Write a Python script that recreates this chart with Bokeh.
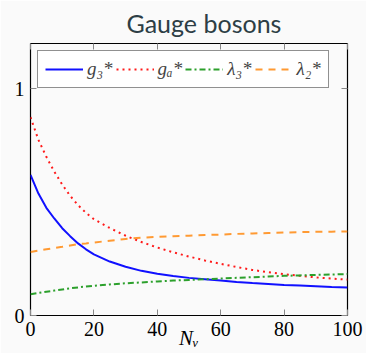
from bokeh.plotting import figure
from bokeh.models import (Legend, LegendItem, LinearAxis, FixedTicker, Range1d)
from bokeh.embed import file_html
from bokeh.resources import INLINE

# Fixed-point couplings versus number of flavours N_v
n_v = [0, 2.5, 5, 7.5, 10, 12.5, 15, 17.5, 20, 25, 30, 35, 40, 45, 50,
       55, 60, 65, 70, 75, 80, 85, 90, 95, 100]
g3_star = [0.62, 0.538, 0.475, 0.428, 0.385, 0.35, 0.318, 0.292, 0.27, 0.238, 0.215, 0.197,
           0.184, 0.174, 0.166, 0.160, 0.154, 0.148, 0.143, 0.139, 0.135, 0.132, 0.129,
           0.126, 0.124]
ga_star = [0.875, 0.775, 0.70, 0.635, 0.578, 0.528, 0.487, 0.453, 0.425, 0.386, 0.352, 0.324,
           0.300, 0.279, 0.260, 0.243, 0.228, 0.214, 0.201, 0.191, 0.182, 0.175, 0.168,
           0.163, 0.158]
lam3_star = [0.094, 0.10, 0.105, 0.11, 0.115, 0.12, 0.124, 0.128, 0.131, 0.137, 0.142, 0.146,
             0.150, 0.154, 0.157, 0.160, 0.163, 0.166, 0.169, 0.172, 0.175, 0.177, 0.179,
             0.181, 0.183]
lam2_star = [0.28, 0.286, 0.292, 0.298, 0.303, 0.309, 0.315, 0.318, 0.322, 0.330, 0.338, 0.343,
             0.347, 0.350, 0.352, 0.355, 0.357, 0.360, 0.362, 0.364, 0.366, 0.368, 0.369,
             0.370, 0.371]

x_ticks = [0, 20, 40, 60, 80, 100]
y_ticks = [0, 1]
series_labels = ["g₃*", "gₐ*", "λ₃*", "λ₂*"]
x_label = "Nᵥ"

BG = "#fafafa"
SERIF = "Liberation Serif"
TICK_GREY = "#888888"

p = figure(frame_width=317, frame_height=272,
           min_border_left=30, min_border_right=19, min_border_top=42, min_border_bottom=39,
           x_range=Range1d(0, 100), y_range=Range1d(0, 1.2),
           output_backend="svg", toolbar_location=None,
           background_fill_color=BG, border_fill_color=BG)

p.title.text = "Gauge bosons"
p.title.text_font = "Lato"
p.title.text_font_size = "25px"
p.title.text_font_style = "normal"
p.title.text_color = "#2d3e45"
p.title.align = "left"
p.title.offset = 96
p.title.standoff = 11

p.grid.visible = False
p.outline_line_color = "black"
p.outline_line_width = 1.2

for ax in (p.xaxis[0], p.yaxis[0]):
    ax.axis_line_color = None
    ax.major_tick_in = 6
    ax.major_tick_out = 0
    ax.major_tick_line_color = TICK_GREY
    ax.minor_tick_line_color = None
    ax.major_label_text_font = SERIF
    ax.major_label_text_font_size = "20px"
    ax.major_label_text_color = "black"
p.xaxis.ticker = FixedTicker(ticks=x_ticks)
p.yaxis.ticker = FixedTicker(ticks=y_ticks)
p.xaxis.major_label_standoff = 6
p.yaxis.major_label_standoff = 6

p.xaxis.axis_label = x_label
p.xaxis.axis_label_text_font = SERIF
p.xaxis.axis_label_text_font_style = "italic"
p.xaxis.axis_label_text_font_size = "21px"
p.xaxis.axis_label_text_color = "black"
p.xaxis.axis_label_standoff = -13

# mirrored tick marks on top and right, without labels
top = LinearAxis(ticker=FixedTicker(ticks=x_ticks), axis_line_color=None,
                 major_tick_in=6, major_tick_out=0, major_tick_line_color=TICK_GREY,
                 minor_tick_line_color=None, major_label_standoff=0,
                 major_label_text_font_size="1px",
                 major_label_overrides={t: "" for t in x_ticks})
right = LinearAxis(ticker=FixedTicker(ticks=y_ticks), axis_line_color=None,
                   major_tick_in=6, major_tick_out=0, major_tick_line_color=TICK_GREY,
                   minor_tick_line_color=None, major_label_standoff=0,
                   major_label_text_font_size="1px",
                   major_label_overrides={t: "" for t in y_ticks})
p.add_layout(top, "above")
p.add_layout(right, "right")

r1 = p.line(n_v, g3_star, line_color="#1010ff", line_width=2)
r2 = p.line(n_v, ga_star, line_color="#ff1a1a", line_width=2, line_dash="2 4")
r3 = p.line(n_v, lam3_star, line_color="#2ca02c", line_width=2, line_dash="6 3 2 3")
r4 = p.line(n_v, lam2_star, line_color="#ff9a33", line_width=2, line_dash="7 6")

legend = Legend(items=[LegendItem(label=lbl, renderers=[r])
                       for lbl, r in zip(series_labels, [r1, r2, r3, r4])],
                orientation="horizontal", location="top_left", margin=7,
                padding=7, spacing=3, glyph_width=38, glyph_height=20, label_standoff=4,
                border_line_color="#222222", border_line_width=1,
                background_fill_color="white", background_fill_alpha=1,
                label_text_font=SERIF, label_text_font_style="italic",
                label_text_font_size="19px", label_height=19)
p.add_layout(legend)

open("out.html", "w").write(file_html(p, INLINE))
